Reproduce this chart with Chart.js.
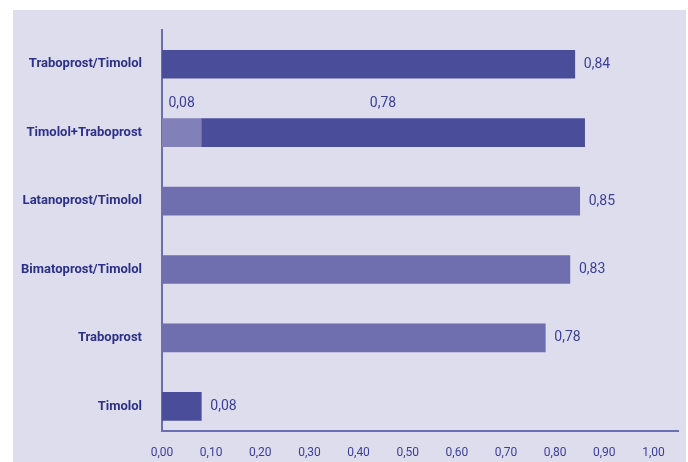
<!DOCTYPE html>
<html>
<head>
<meta charset="utf-8">
<script src="https://cdn.jsdelivr.net/npm/chart.js@4"></script>
<style>
  html, body { margin: 0; padding: 0; background: #ffffff; }
  #panel { position: absolute; left: 13px; top: 10px; width: 673px; height: 452px; background: #dedded; }
  #chart { display: block; }
</style>
</head>
<body>
<div id="panel"><canvas id="chart" width="673" height="452"></canvas></div>
<script>
// Data
const categories = ['Traboprost/Timolol', 'Timolol+Traboprost', 'Latanoprost/Timolol', 'Bimatoprost/Timolol', 'Traboprost', 'Timolol'];
const firstValues = [0.84, 0.08, 0.85, 0.83, 0.78, 0.08];
const secondValues = [null, 0.78, null, null, null, null];
const xTicks = [0, 0.1, 0.2, 0.3, 0.4, 0.5, 0.6, 0.7, 0.8, 0.9, 1.0];

const dark = '#4a4e9a';
const medium = '#6f6eae';
const light = '#8280b8';
const firstColors = [dark, light, medium, medium, medium, dark];

const textColor = '#2c3088';
const labelColor = '#3b3f98';
const axisColor = '#6c6db4';
const fontFamily = 'Roboto, sans-serif';

Chart.defaults.font.family = fontFamily;

function fmt(v) {
  return v.toFixed(2).replace('.', ',');
}

// value labels drawn next to / above the bars
const valueLabels = {
  id: 'valueLabels',
  afterDatasetsDraw(chart) {
    const ctx = chart.ctx;
    const first = chart.getDatasetMeta(0).data;
    const second = chart.getDatasetMeta(1).data;
    ctx.save();
    ctx.fillStyle = labelColor;
    ctx.font = '14px ' + fontFamily;
    ctx.textBaseline = 'middle';
    first.forEach((bar, i) => {
      if (secondValues[i] == null) {
        ctx.textAlign = 'left';
        ctx.fillText(fmt(firstValues[i]), bar.x + 9, bar.y);
      } else {
        const top = bar.y - bar.height / 2 - 15;
        ctx.textAlign = 'center';
        ctx.fillText(fmt(firstValues[i]), (bar.base + bar.x) / 2, top);
        const b2 = second[i];
        ctx.fillText(fmt(secondValues[i]), (b2.base + b2.x) / 2 - 10, top);
      }
    });
    ctx.restore();
  }
};

new Chart(document.getElementById('chart'), {
  type: 'bar',
  data: {
    datasets: [{
      data: firstValues.map((v, i) => ({ x: v, y: i })),
      backgroundColor: firstColors,
      barThickness: 28
    }, {
      data: secondValues.map((v, i) => ({ x: v, y: i })),
      backgroundColor: dark,
      barThickness: 28
    }]
  },
  options: {
    indexAxis: 'y',
    responsive: false,
    animation: false,
    layout: { padding: { top: 20, right: 8, left: 0, bottom: 0 } },
    plugins: { legend: { display: false }, tooltip: { enabled: false } },
    scales: {
      x: {
        type: 'linear',
        stacked: true,
        min: 0,
        max: 1.05,
        grid: { display: false },
        border: { display: true, color: axisColor, width: 2 },
        afterBuildTicks: (scale) => { scale.ticks = xTicks.map(v => ({ value: v })); },
        afterFit: (scale) => {
          scale.height = 31;
          scale.paddingLeft = 0;
          scale.paddingRight = 0;
        },
        ticks: {
          color: labelColor,
          font: { size: 12 },
          padding: 7,
          maxRotation: 0,
          callback: (v) => fmt(v)
        }
      },
      y: {
        type: 'linear',
        stacked: true,
        offset: false,
        reverse: true,
        min: -0.5,
        max: 5.36,
        grid: { display: false },
        border: { display: true, color: axisColor, width: 2 },
        afterBuildTicks: (scale) => { scale.ticks = categories.map((c, i) => ({ value: i })); },
        afterFit: (scale) => {
          scale.width = 149;
          scale.paddingTop = 0;
          scale.paddingBottom = 0;
        },
        ticks: {
          color: textColor,
          font: { size: 13, weight: 'bold' },
          padding: 12,
          callback: (v) => categories[v]
        }
      }
    }
  },
  plugins: [valueLabels]
});
</script>
</body>
</html>
